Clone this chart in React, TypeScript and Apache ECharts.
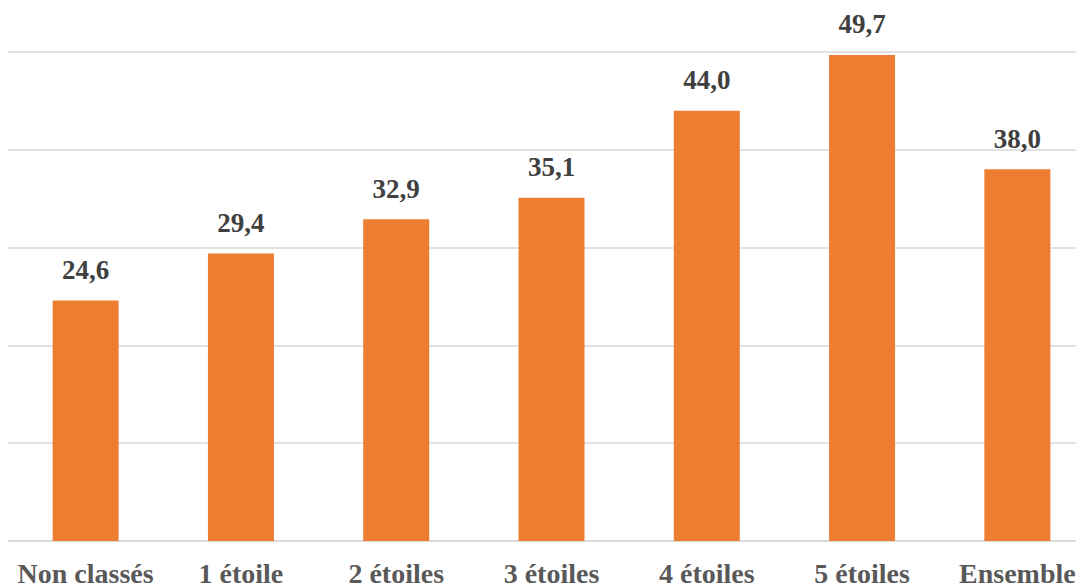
import React, { useEffect, useRef } from "react";
import * as echarts from "echarts";

const categories = ["Non classés", "1 étoile", "2 étoiles", "3 étoiles", "4 étoiles", "5 étoiles", "Ensemble"];
const values = [24.6, 29.4, 32.9, 35.1, 44.0, 49.7, 38.0];

const FONT = "'Liberation Serif', serif";

export default function App() {
  const ref = useRef<HTMLDivElement>(null);
  useEffect(() => {
    if (!ref.current) return;
    const chart = echarts.init(ref.current, null, { renderer: "svg" });
    chart.setOption({
      animation: false,
      grid: { left: 8, right: 0, top: 52, bottom: 45, containLabel: false },
      xAxis: {
        type: "category",
        data: categories,
        axisTick: { show: false },
        axisLine: { lineStyle: { color: "#d9d9d9", width: 1.5 } },
        axisLabel: {
          color: "#595959",
          fontFamily: FONT,
          fontWeight: "bold",
          fontSize: 28,
          margin: 18,
          interval: 0,
        },
      },
      yAxis: {
        type: "value",
        min: 0,
        max: 50,
        interval: 10,
        axisLabel: { show: false },
        axisLine: { show: false },
        axisTick: { show: false },
        splitLine: { lineStyle: { color: "#d9d9d9", width: 1.5 } },
      },
      series: [
        {
          type: "bar",
          data: values,
          barWidth: 66,
          itemStyle: { color: "#ED7D31" },
          label: {
            show: true,
            position: "top",
            distance: 17,
            color: "#404040",
            fontFamily: FONT,
            fontWeight: "bold",
            fontSize: 27,
            formatter: (p: any) => p.value.toFixed(1).replace(".", ","),
          },
        },
      ],
    });
    return () => chart.dispose();
  }, []);
  return (
    <div style={{ position: "absolute", left: 0, top: 0, width: 1076, height: 587, overflow: "hidden", background: "#fff" }}>
      <div ref={ref} style={{ position: "absolute", left: 0, top: 0, width: 1095, height: 587 }} />
    </div>
  );
}
